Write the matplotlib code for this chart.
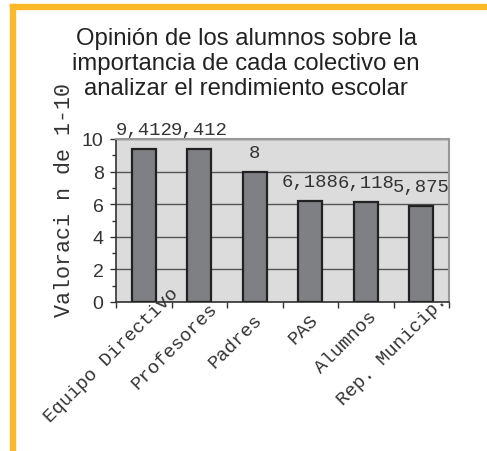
import numpy as np
import matplotlib.pyplot as plt
from matplotlib.patches import Rectangle

# data
categories = ["Equipo Directivo", "Profesores", "Padres", "PAS", "Alumnos", "Rep. Municip."]
values = [9.412, 9.412, 8, 6.188, 6.118, 5.875]
value_labels = ["9,412", "9,412", "8", "6,188", "6,118", "5,875"]
yticks = [0, 2, 4, 6, 8, 10]

title = "Opinión de los alumnos sobre la\nimportancia de cada colectivo en\nanalizar el rendimiento escolar"
ylabel = "Valoraci n de 1-10"

MONO = "Liberation Mono"
SANS = "Liberation Sans"

fig = plt.figure(figsize=(4.87, 4.52), dpi=100)
fig.patch.set_facecolor("white")

# orange frame (top and left edges)
fig.patches.append(Rectangle((10 / 487, 0), 5 / 487, 1 - 5 / 452, transform=fig.transFigure,
                             color="#FBB92A", zorder=0))
fig.patches.append(Rectangle((10 / 487, 1 - 10 / 452), 1, 5 / 452, transform=fig.transFigure,
                             color="#FBB92A", zorder=0))

ax = fig.add_axes([116 / 487, 1 - 303 / 452, 333 / 487, 163 / 452])
ax.set_facecolor("#dcdcdc")

x = np.arange(len(categories))
ax.bar(x, values, width=0.44, color="#7f8083", edgecolor="#222222", linewidth=1.6, zorder=3)

ax.set_xlim(-0.5, len(categories) - 0.5)
ax.set_ylim(0, 10)
ax.set_yticks(yticks)
ax.set_yticks(np.arange(1, 10, 2), minor=True)
ax.set_yticklabels([str(t) for t in yticks], fontfamily=SANS, fontsize=14, color="#333333")
ax.tick_params(axis="y", which="major", length=4, width=1, color="#333333", pad=5)
ax.tick_params(axis="y", which="minor", length=3, width=1, color="#333333")
ax.grid(axis="y", which="major", color="#555555", linewidth=1, zorder=1)

ax.set_xticks(np.arange(-0.5, len(categories), 1))
ax.set_xticklabels([])
ax.tick_params(axis="x", length=4, width=1, color="#333333")

for side in ["top", "right"]:
    ax.spines[side].set_color("#999999")
    ax.spines[side].set_linewidth(1.5)
for side in ["left", "bottom"]:
    ax.spines[side].set_color("#333333")
    ax.spines[side].set_linewidth(1.2)

# value labels above bars
for xi, v, lab in zip(x, values, value_labels):
    ax.annotate(lab, (xi, v), xytext=(0, 14), textcoords="offset points",
                ha="center", va="center", fontfamily=MONO, fontsize=13.7,
                color="#333333", annotation_clip=False)

# rotated category labels, longer ones pushed along their direction
for xi, cat in zip(x, categories):
    shift = max((len(cat) - 6) * 1.9, 0)
    ax.annotate(cat, (xi, 0), xycoords=("data", "data"),
                xytext=(-0.5 + shift, -6 + shift), textcoords="offset points",
                ha="right", va="top", rotation=45, rotation_mode="anchor",
                fontfamily=MONO, fontsize=13.7, color="#333333", annotation_clip=False)

fig.text(246 / 487, 1 - 64 / 452, title, ha="center", va="center", fontfamily=SANS,
         fontsize=17.2, color="#222222", linespacing=1.17)
fig.text(65 / 487, 1 - 200 / 452, ylabel, ha="center", va="center", rotation=90,
         fontfamily=MONO, fontsize=15.6, color="#333333")

fig.savefig("out.png", dpi=100)
